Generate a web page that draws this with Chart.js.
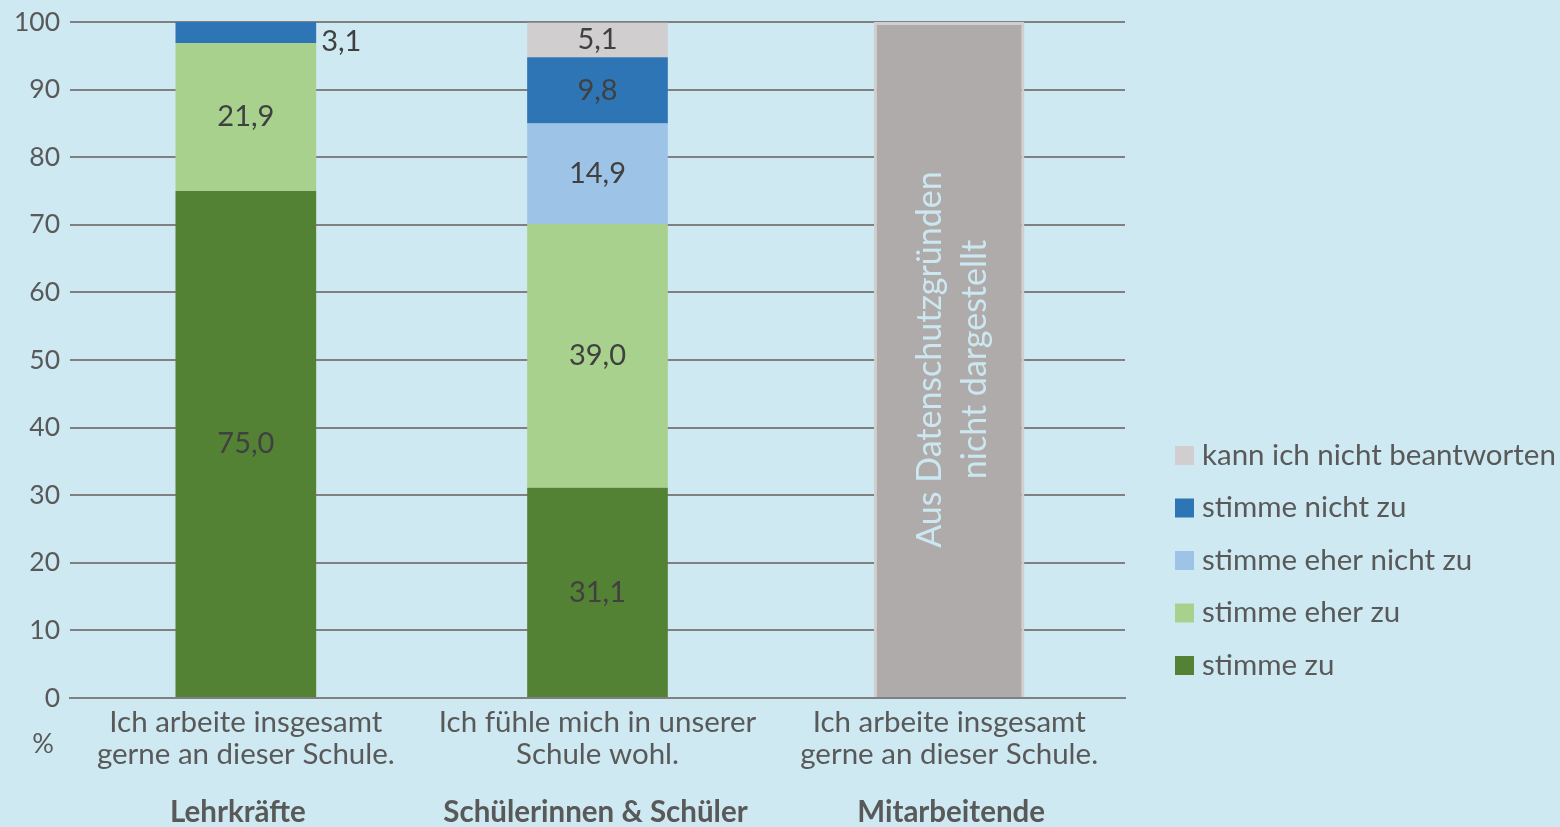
<!DOCTYPE html>
<html>
<head>
<meta charset="utf-8">
<script src="https://cdn.jsdelivr.net/npm/chart.js@4/dist/chart.umd.min.js"></script>
<style>
  html, body { margin: 0; padding: 0; background: #cee9f1; }
  #wrap { width: 1560px; height: 827px; position: relative; }
</style>
</head>
<body>
<div id="wrap"><canvas id="schuleChart" width="1560" height="827"></canvas></div>
<script>
// Daten
const aussagen = [
    ['Ich arbeite insgesamt', 'gerne an dieser Schule.'],
    ['Ich fühle mich in unserer', 'Schule wohl.'],
    ['Ich arbeite insgesamt', 'gerne an dieser Schule.']
];
const gruppen = ['Lehrkräfte', 'Schülerinnen & Schüler', 'Mitarbeitende'];
const stimmeZu = [75.0, 31.1, null];
const stimmeEherZu = [21.9, 39.0, null];
const stimmeEherNichtZu = [0, 14.9, null];
const stimmeNichtZu = [3.1, 9.8, null];
const kannNichtBeantworten = [0, 5.1, null];
const nichtDargestellt = [null, null, 100];
const hinweisText = ['Aus Datenschutzgründen', 'nicht dargestellt'];
const yTicks = [0, 10, 20, 30, 40, 50, 60, 70, 80, 90, 100];

const FONT = 'Lato, "Open Sans", sans-serif';

// Werte in die Balken schreiben
const wertePlugin = {
    id: 'werte',
    afterDatasetsDraw(chart) {
        const ctx = chart.ctx;
        ctx.save();
        ctx.font = '29px ' + FONT;
        ctx.fillStyle = '#404040';
        ctx.textBaseline = 'middle';
        chart.data.datasets.forEach((ds, i) => {
            if (ds.platzhalter) return;
            const meta = chart.getDatasetMeta(i);
            meta.data.forEach((bar, j) => {
                const v = ds.data[j];
                if (!v) return;
                const txt = v.toFixed(1).replace('.', ',');
                const yc = (bar.y + bar.base) / 2;
                if (v < 4) {
                    // zu klein -> rechts neben den Balken
                    ctx.textAlign = 'left';
                    ctx.fillText(txt, bar.x + bar.width / 2 + 5, yc + 9);
                } else {
                    ctx.textAlign = 'center';
                    ctx.fillText(txt, bar.x, yc);
                }
            });
        });
        // Hinweis im grauen Balken (gedreht)
        chart.data.datasets.forEach((ds, i) => {
            if (!ds.platzhalter) return;
            const meta = chart.getDatasetMeta(i);
            meta.data.forEach((bar, j) => {
                if (!ds.data[j]) return;
                ctx.save();
                ctx.translate(bar.x + 3, (bar.y + bar.base) / 2);
                ctx.rotate(-Math.PI / 2);
                ctx.font = '34px ' + FONT;
                ctx.fillStyle = '#cbe8f1';
                ctx.textAlign = 'center';
                ctx.textBaseline = 'middle';
                ctx.fillText(hinweisText[0], 0, -22);
                ctx.fillText(hinweisText[1], 0, 23);
                ctx.restore();
            });
        });
        ctx.restore();
    }
};

// Gruppen, %-Zeichen und Legende
const gruppenVersatz = [-8, -2, 2];
const extrasPlugin = {
    id: 'extras',
    afterDraw(chart) {
        const ctx = chart.ctx;
        const x = chart.scales.x;
        ctx.save();
        ctx.fillStyle = '#595959';
        ctx.textBaseline = 'middle';
        ctx.textAlign = 'center';
        ctx.font = 'bold 29.5px ' + FONT;
        gruppen.forEach((g, i) => {
            ctx.fillText(g, x.getPixelForValue(i) + gruppenVersatz[i], 812);
        });
        ctx.font = '27px ' + FONT;
        ctx.fillText('%', 43, 744);

        // Legende (umgekehrte Reihenfolge)
        const items = chart.data.datasets.filter(d => !d.platzhalter).slice().reverse();
        ctx.textAlign = 'left';
        ctx.font = '29.5px ' + FONT;
        items.forEach((d, k) => {
            const yc = 455 + k * 52.5;
            ctx.fillStyle = d.backgroundColor;
            ctx.fillRect(1175, yc - 9, 19, 19);
            ctx.fillStyle = '#595959';
            ctx.fillText(d.label, 1202, yc);
        });
        ctx.restore();
    }
};

const ctx = document.getElementById('schuleChart').getContext('2d');
const schuleChart = new Chart(ctx, {
    type: 'bar',
    data: {
        labels: aussagen,
        datasets: [
            { label: 'stimme zu', data: stimmeZu, backgroundColor: '#548235' },
            { label: 'stimme eher zu', data: stimmeEherZu, backgroundColor: '#a9d18e' },
            { label: 'stimme eher nicht zu', data: stimmeEherNichtZu, backgroundColor: '#9dc3e6' },
            { label: 'stimme nicht zu', data: stimmeNichtZu, backgroundColor: '#2e75b6' },
            { label: 'kann ich nicht beantworten', data: kannNichtBeantworten, backgroundColor: '#d0cece' },
            {
                label: 'nicht dargestellt',
                data: nichtDargestellt,
                platzhalter: true,
                backgroundColor: '#afabab',
                borderColor: '#d0cece',
                borderWidth: 3,
                barPercentage: 0.535
            }
        ]
    },
    options: {
        responsive: false,
        animation: false,
        layout: { padding: { top: 22, right: 435, left: 0, bottom: 0 } },
        datasets: { bar: { categoryPercentage: 0.8, barPercentage: 0.5 } },
        plugins: {
            legend: { display: false },
            tooltip: { enabled: false }
        },
        scales: {
            x: {
                stacked: true,
                grid: { display: false },
                border: { color: '#808080', width: 2 },
                ticks: {
                    color: '#595959',
                    font: { family: FONT, size: 29.5, lineHeight: 1.085 },
                    padding: 0,
                    maxRotation: 0
                },
                afterFit(scale) { scale.height = 129; }
            },
            y: {
                stacked: true,
                min: 0,
                max: 100,
                afterBuildTicks(scale) { scale.ticks = yTicks.map(v => ({ value: v })); },
                grid: { color: '#808080', lineWidth: 2, drawTicks: false },
                border: { display: false },
                ticks: {
                    color: '#595959',
                    font: { family: FONT, size: 26.5 },
                    padding: 10
                },
                afterFit(scale) {
                    scale.width = 70;
                    scale.paddingTop = 0;
                    scale.paddingBottom = 0;
                }
            }
        }
    },
    plugins: [wertePlugin, extrasPlugin]
});
</script>
</body>
</html>
